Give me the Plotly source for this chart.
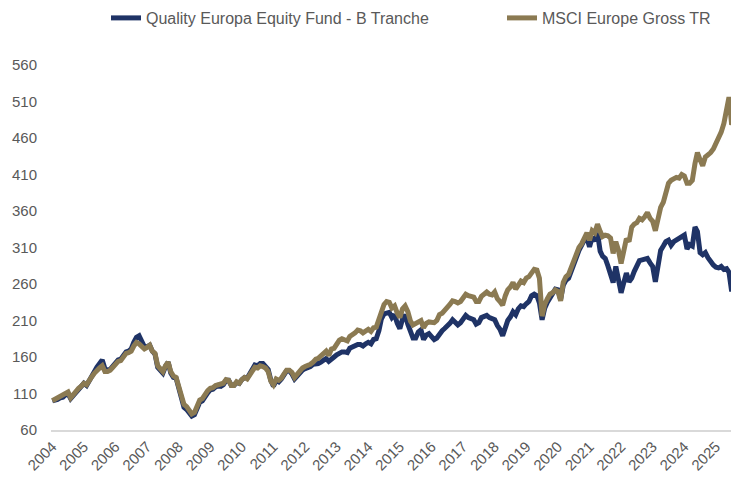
import pandas as pd
import plotly.graph_objects as go

# Month-end dates, Sep 2004 .. Apr 2026
dates = pd.date_range("2004-09-30", periods=260, freq="ME")

fund = (
    [100, 100.5, 102, 104]  # 2004 (Sep-Dec)
    + [105, 108, 110, 103, 107, 111, 116, 119, 124, 121, 128, 133]  # 2005
    + [140, 146, 151, 156, 144, 142, 143, 147, 152, 156, 157, 162]  # 2006
    + [167, 168, 171, 180, 187, 189, 180, 174, 174, 176, 168, 164]  # 2007
    + [146, 141, 138, 147, 153, 138, 132, 131, 116, 100, 91, 88]  # 2008
    + [84, 79, 81, 92, 98, 100, 107, 111, 115, 116, 119, 121]  # 2009
    + [120, 122, 128, 128, 121, 121, 125, 124, 129, 132, 131, 137]  # 2010
    + [145, 149, 148, 151, 151, 148, 143, 128, 120, 128, 126, 130]  # 2011
    + [136, 141, 141, 137, 130, 134, 140, 142, 144, 145, 147, 150]  # 2012
    + [150, 151, 153, 155, 158, 154, 158, 160, 163, 166, 167, 167]  # 2013
    + [166, 172, 174, 175, 177, 177, 175, 178, 180, 178, 184, 185]  # 2014
    + [196, 212, 219, 220, 221, 214, 218, 206, 199, 212, 218, 205]  # 2015
    + [193, 186, 186, 194, 197, 184, 190, 192, 188, 184, 186, 192]  # 2016
    + [196, 199, 202, 206, 211, 207, 204, 207, 212, 217, 214, 213]  # 2017
    + [211, 205, 207, 214, 216, 217, 214, 212, 211, 203, 198, 189]  # 2018
    + [201, 210, 215, 222, 218, 226, 230, 229, 233, 236, 244, 246]  # 2019
    + [244, 234, 211, 227, 235, 241, 246, 253, 252, 239, 258, 265]  # 2020
    + [268, 277, 290, 298, 306, 313, 320, 323, 311, 324, 319, 330]  # 2021
    + [305, 298, 295, 285, 272, 262, 284, 268, 248, 262, 275, 263]  # 2022
    + [268, 277, 283, 292, 293, 294, 295, 289, 284, 263, 290, 306]  # 2023
    + [312, 318, 320, 313, 318, 320, 323, 325, 327, 308, 314, 312]  # 2024
    + [338, 332, 303, 300, 303, 296, 290, 286, 283, 282, 284, 280]  # 2025
    + [281, 276, 250, 259]  # 2026 (Jan-Apr)
)

msci = (
    [100, 102, 103.5, 106]  # 2004
    + [108, 111, 112, 104, 109, 113, 117, 120, 124, 122, 129, 133]  # 2005
    + [138, 142, 145, 148, 140, 140, 142, 146, 150, 154, 155, 160]  # 2006
    + [165, 166, 168, 175, 180, 178, 174, 171, 173, 176, 168, 165]  # 2007
    + [148, 143, 140, 148, 153, 140, 134, 132, 120, 104, 95, 92]  # 2008
    + [87, 82, 84, 95, 101, 103, 110, 114, 117, 118, 121, 122]  # 2009
    + [122, 124, 129, 128, 121, 121, 126, 124, 129, 132, 130, 136]  # 2010
    + [143, 146, 145, 148, 147, 145, 140, 127, 122, 130, 128, 131]  # 2011
    + [137, 142, 142, 139, 132, 136, 142, 145, 147, 148, 150, 153]  # 2012
    + [157, 158, 161, 164, 168, 162, 171, 172, 178, 183, 185, 184]  # 2013
    + [182, 188, 190, 193, 197, 196, 193, 196, 198, 195, 200, 201]  # 2014
    + [212, 226, 232, 236, 235, 227, 230, 220, 214, 226, 230, 222]  # 2015
    + [209, 204, 206, 209, 210, 200, 206, 208, 208, 207, 210, 218]  # 2016
    + [220, 223, 228, 232, 237, 236, 234, 236, 240, 246, 244, 243]  # 2017
    + [242, 236, 236, 243, 246, 249, 246, 245, 249, 240, 236, 231]  # 2018
    + [244, 252, 256, 262, 253, 260, 264, 262, 268, 270, 276, 280]  # 2019
    + [279, 268, 216, 232, 240, 246, 248, 252, 250, 237, 262, 270]  # 2020
    + [273, 282, 294, 302, 310, 315, 324, 330, 320, 333, 330, 342]  # 2021
    + [332, 325, 327, 326, 323, 302, 318, 306, 288, 305, 322, 318]  # 2022
    + [338, 342, 344, 350, 348, 352, 358, 350, 346, 333, 352, 365]  # 2023
    + [372, 388, 398, 402, 405, 406, 405, 410, 408, 398, 398, 402]  # 2024
    + [425, 440, 430, 422, 434, 436, 440, 445, 452, 460, 468, 480]  # 2025
    + [496, 516, 478, 502]  # 2026
)

tick_years = list(range(2004, 2026))
tick_dates = [pd.Timestamp(f"{y}-09-30") for y in tick_years]
tick_labels = [str(y) for y in tick_years]
y_ticks = list(range(60, 561, 50))

FUND_NAME = "Quality Europa Equity Fund - B Tranche"
MSCI_NAME = "MSCI Europe Gross TR"
BLUE = "#1F3366"
GOLD = "#8B7A52"
GREY = "#595959"
FONT = "Liberation Sans, Arial, sans-serif"

fig = go.Figure()
fig.add_trace(go.Scatter(x=dates, y=fund, mode="lines", name=FUND_NAME,
                         line=dict(color=BLUE, width=5), legend="legend"))
fig.add_trace(go.Scatter(x=dates, y=msci, mode="lines", name=MSCI_NAME,
                         line=dict(color=GOLD, width=5), legend="legend2"))

# page body has an 8px margin, so the figure is sized to fit the window
W, H = 731, 474
leg_common = dict(orientation="h", xanchor="left", yanchor="middle",
                  xref="container", yref="container",
                  font=dict(size=16, color=GREY, family=FONT),
                  bgcolor="rgba(0,0,0,0)", borderwidth=0)

fig.update_layout(
    width=W, height=H,
    margin=dict(l=43, r=3, t=57, b=52, autoexpand=False),
    paper_bgcolor="white", plot_bgcolor="white",
    font=dict(family=FONT, size=15, color=GREY),
    showlegend=True,
    legend=dict(x=98 / W, y=1 - 10 / H, **leg_common),
    legend2=dict(x=494 / W, y=1 - 10 / H, **leg_common),
)
fig.update_xaxes(
    type="date", automargin=False,
    range=["2004-09-15", "2026-05-20"],
    tickmode="array", tickvals=tick_dates, ticktext=tick_labels,
    tickangle=-45, tickfont=dict(size=15, color=GREY),
    showgrid=False, zeroline=False,
    showline=True, linecolor="#D9D9D9", linewidth=2,
    ticks="",
)
fig.update_yaxes(
    range=[60, 560], tickmode="array", tickvals=y_ticks, automargin=False,
    tickfont=dict(size=15, color=GREY),
    showgrid=False, zeroline=False, showline=False,
    ticks="outside", ticklen=10, tickcolor="rgba(0,0,0,0)",
)

fig.write_html("out.html")
